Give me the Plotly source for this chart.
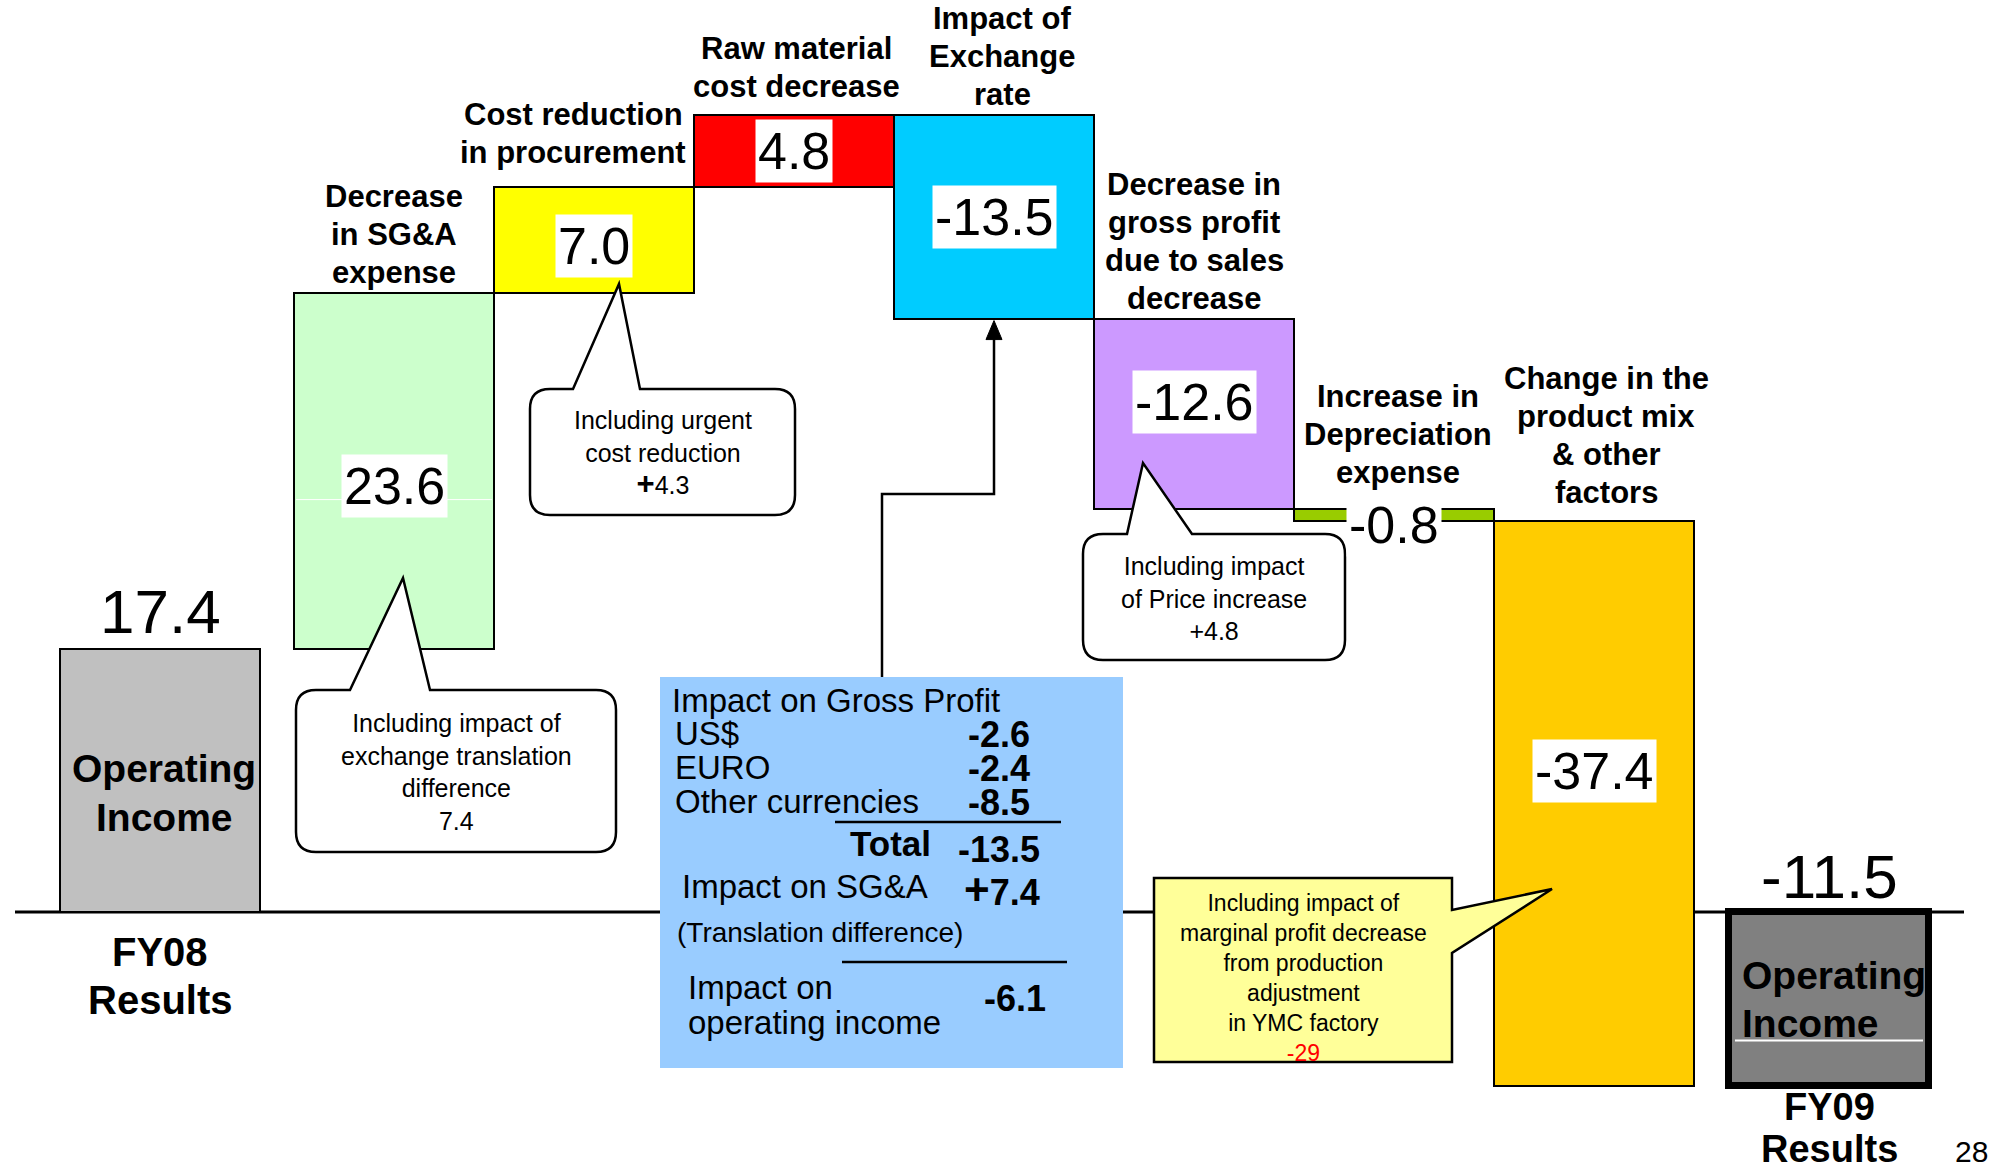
import plotly.graph_objects as go

# ---------------------------------------------------------------- data
start_name = "FY08<br>Results"
start_value = 17.4
step_names = [
    "Decrease<br>in SG&A<br>expense",
    "Cost reduction<br>in procurement",
    "Raw material<br>cost decrease",
    "Impact of<br>Exchange<br>rate",
    "Decrease in<br>gross profit<br>due to sales<br>decrease",
    "Increase in<br>Depreciation<br>expense",
    "Change in the<br>product mix<br>& other<br>factors",
]
step_values = [23.6, 7.0, 4.8, -13.5, -12.6, -0.8, -37.4]
end_name = "FY09<br>Results"
end_value = -11.5
total_inner_text = "Operating<br>Income"

# exchange-rate breakdown
fx_currencies = ["US$", "EURO", "Other currencies"]
fx_values = [-2.6, -2.4, -8.5]
fx_total = -13.5
sga_translation = 7.4
fx_operating_impact = -6.1

# callout notes
note_sga = "Including impact of<br>exchange translation<br>difference<br>7.4"
note_procurement = ("Including urgent<br>cost reduction<br>"
                    "<span style='font-size:31px'><b>+</b></span>4.3")
note_price = "Including impact<br>of Price increase<br>+4.8"
note_mix = ("Including impact of<br>marginal profit decrease<br>from production<br>"
            "adjustment<br>in YMC factory<br><span style='color:#FF0000'>-29</span>")
page_number = "28"

# ---------------------------------------------------------------- styles
step_colors = ["#CCFFCC", "#FFFF00", "#FF0000", "#00CCFF", "#CC99FF", "#99CC00", "#FFCC00"]
start_color = "#C0C0C0"
end_color = "#808080"
FONT = "Arial, 'Liberation Sans', Helvetica, sans-serif"

W, H = 1993, 1170
XR = [-0.97, 8.995]
YR = [-(H - 912) / 15.1, 912 / 15.1]


def xpx(v):
    return (v - XR[0]) / (XR[1] - XR[0]) * W


def ypx(v):
    return (YR[1] - v) / (YR[1] - YR[0]) * H


def P(px, py):
    return f"{px / W:.5f},{1 - py / H:.5f}"


# ---------------------------------------------------------------- bars
slots = list(range(len(step_values) + 2))
values = [start_value] + step_values + [end_value]
bases = [0.0]
running = start_value
for v in step_values:
    bases.append(running)
    running += v
bases.append(0.0)
colors = [start_color] + step_colors + [end_color]
offsets = [-0.67] + [-0.5] * len(step_values) + [-0.325]
widths = [1.0] * len(slots)
line_w = [2] * (len(slots) - 1) + [7]
centers = [s + o + w / 2 for s, o, w in zip(slots, offsets, widths)]

fig = go.Figure(go.Bar(
    x=slots, y=values, base=bases, width=widths, offset=offsets,
    marker=dict(color=colors, line=dict(color="#000000", width=line_w)),
    hoverinfo="skip", showlegend=False,
))

shapes = []
annotations = []

# axis baseline
shapes.append(dict(type="line", xref="paper", yref="y", x0=15 / W, x1=1964 / W, y0=0, y1=0,
                   line=dict(color="#000000", width=3), layer="below"))

# thin white text-box edges left inside two bars
shapes.append(dict(type="line", xref="x", yref="y",
                   x0=centers[1] - 0.49, x1=centers[1] + 0.49, y0=bases[1] + step_values[0] * 0.42,
                   y1=bases[1] + step_values[0] * 0.42, line=dict(color="#FFFFFF", width=1)))
shapes.append(dict(type="line", xref="x", yref="y",
                   x0=centers[-1] - 0.47, x1=centers[-1] + 0.47, y0=end_value * 0.74,
                   y1=end_value * 0.74, line=dict(color="#FFFFFF", width=2)))


def label(x, y, text, size, bold=False, **kw):
    t = f"<b>{text}</b>" if bold else text
    d = dict(x=x, y=y, text=t, showarrow=False, borderpad=0,
             font=dict(family=FONT, size=size, color="#000000"))
    d.update(kw)
    annotations.append(d)


def stacked(x, y, text, size, spacing, bold=True, below=False, xshift=0, yshift=0, **kw):
    """Multi-line label drawn line by line so the line spacing can be set."""
    lines = text.split("<br>")
    n = len(lines)
    for j, line in enumerate(lines):
        if below:
            dy = yshift - j * spacing
            anchor = "top"
        else:
            dy = yshift + (n - 1 - j) * spacing
            anchor = "bottom"
        label(x, y, line, size, bold=bold, xref="x", yref="y", yanchor=anchor,
              xshift=xshift, yshift=dy, **kw)


# category labels above the step bars
label_dx = [0, -21, 2, 8, 0, 4, 12]
label_dy = [2, 16, 10, 2, 2, 18, 10]
for i, name in enumerate(step_names):
    s = i + 1
    top = max(bases[s], bases[s] + values[s])
    stacked(centers[s], top, name, 31, 38, xshift=label_dx[i], yshift=label_dy[i])

# step values, white boxed
value_dy = [-15, -6, 0, 0, 12, -10, 32]
for i in range(len(step_values)):
    s = i + 1
    mid = bases[s] + values[s] / 2
    label(centers[s], mid, f"{values[s]:.1f}", 52, xref="x", yref="y", yanchor="middle",
          bgcolor="#FFFFFF", borderpad=2, yshift=value_dy[i])

# totals
label(centers[0], start_value, f"{start_value:.1f}", 62, xref="x", yref="y", yanchor="bottom", yshift=2)
label(centers[-1], 0, f"{end_value:.1f}", 62, xref="x", yref="y", yanchor="bottom", yshift=0)
stacked(centers[0], 0, start_name, 40, 48, below=True, yshift=-17)
stacked(centers[-1], end_value, end_name, 38, 42, below=True, yshift=1)
stacked(centers[0], start_value * 0.45, total_inner_text, 39, 49, below=True, xshift=4,
        yshift=48)
stacked(centers[-1] - 0.44, end_value * 0.5, total_inner_text, 39, 48, below=True,
        xanchor="left", yshift=46)


# ---------------------------------------------------------------- callouts
def bubble(x0, y0, x1, y1, r, side, a, b, tip):
    s = f"M{P(x0 + r, y0)}"
    if side == "top":
        s += f" L{P(a, y0)} L{P(*tip)} L{P(b, y0)}"
    s += f" L{P(x1 - r, y0)}"
    if r:
        s += f" Q{P(x1, y0)} {P(x1, y0 + r)}"
    if side == "right":
        s += f" L{P(x1, a)} L{P(*tip)} L{P(x1, b)}"
    s += f" L{P(x1, y1 - r)}"
    if r:
        s += f" Q{P(x1, y1)} {P(x1 - r, y1)}"
    s += f" L{P(x0 + r, y1)}"
    if r:
        s += f" Q{P(x0, y1)} {P(x0, y1 - r)}"
    s += f" L{P(x0, y0 + r)}"
    if r:
        s += f" Q{P(x0, y0)} {P(x0 + r, y0)}"
    return s + " Z"


def callout(box, r, side, a, b, tip, fill, text, size, text_y):
    x0, y0, x1, y1 = box
    shapes.append(dict(type="path", xref="paper", yref="paper",
                       path=bubble(x0, y0, x1, y1, r, side, a, b, tip),
                       fillcolor=fill, line=dict(color="#000000", width=2.5)))
    annotations.append(dict(xref="paper", yref="paper", x=(x0 + x1) / 2 / W, y=1 - text_y / H,
                            text=text, showarrow=False, xanchor="center", yanchor="middle",
                            font=dict(family=FONT, size=size, color="#000000")))


callout((296, 690, 616, 852), 20, "top", 350, 430, (403, 578), "#FFFFFF", note_sga, 25, 772)
callout((530, 389, 795, 515), 20, "top", 573, 640, (619, 284), "#FFFFFF", note_procurement, 25, 454)
callout((1083, 534, 1345, 660), 20, "top", 1127, 1192, (1143, 463), "#FFFFFF", note_price, 25, 598)
callout((1154, 878, 1452, 1062), 0, "right", 910, 953, (1552, 889), "#FFFF99", note_mix, 23, 978)

# ---------------------------------------------------------------- exchange breakdown panel
box = (660, 677, 1123, 1068)
shapes.append(dict(type="rect", xref="paper", yref="paper", x0=box[0] / W, x1=box[2] / W,
                   y0=1 - box[3] / H, y1=1 - box[1] / H, fillcolor="#99CCFF", line=dict(width=0)))

# connector from the panel up to the exchange-rate bar
fx_slot = 4
fx_bottom = min(bases[fx_slot], bases[fx_slot] + values[fx_slot])
ax = xpx(centers[fx_slot])
tip_y = ypx(fx_bottom) + 2
shapes.append(dict(type="path", xref="paper", yref="paper",
                   path=f"M{P(882, box[1])} L{P(882, 494)} L{P(ax, 494)} L{P(ax, tip_y + 14)}",
                   line=dict(color="#000000", width=2.5)))
shapes.append(dict(type="path", xref="paper", yref="paper",
                   path=f"M{P(ax, tip_y)} L{P(ax - 8, tip_y + 19)} L{P(ax + 8, tip_y + 19)} Z",
                   fillcolor="#000000", line=dict(color="#000000", width=1)))


def ptext(px, baseline, text, size, bold=False, anchor="left"):
    t = f"<b>{text}</b>" if bold else text
    annotations.append(dict(xref="paper", yref="paper", x=px / W, y=1 - (baseline - 0.35 * size) / H,
                            text=t, showarrow=False, xanchor=anchor, yanchor="middle", borderpad=0,
                            font=dict(family=FONT, size=size, color="#000000")))


ptext(671, 712, "Impact on Gross Profit", 33)
for name, val, bl in zip(fx_currencies, fx_values, [745, 779, 813]):
    ptext(674, bl, name, 33)
    ptext(1031, bl + 2, f"{val:.1f}", 36, bold=True, anchor="right")
shapes.append(dict(type="line", xref="paper", yref="paper", x0=835 / W, x1=1061 / W,
                   y0=1 - 822 / H, y1=1 - 822 / H, line=dict(color="#000000", width=2.5)))
ptext(849, 856, "Total", 35, bold=True)
ptext(1041, 862, f"{fx_total:.1f}", 36, bold=True, anchor="right")
ptext(681, 898, "Impact on SG&A", 33)
ptext(1041, 902, f"<span style='font-size:44px'>+</span>{sga_translation:.1f}", 36, bold=True,
      anchor="right")
ptext(676, 942, "(Translation difference)", 28)
shapes.append(dict(type="line", xref="paper", yref="paper", x0=842 / W, x1=1067 / W,
                   y0=1 - 962 / H, y1=1 - 962 / H, line=dict(color="#000000", width=2.5)))
ptext(687, 999, "Impact on", 33)
ptext(687, 1034, "operating income", 33)
ptext(1047, 1011, f"{fx_operating_impact:.1f}", 36, bold=True, anchor="right")

# page number
annotations.append(dict(xref="paper", yref="paper", x=1990 / W, y=1 - 1151 / H, text=page_number,
                        showarrow=False, xanchor="right", yanchor="middle",
                        font=dict(family=FONT, size=30, color="#000000")))

fig.update_layout(
    width=W, height=H, autosize=False,
    margin=dict(l=0, r=0, t=0, b=0, pad=0),
    paper_bgcolor="#FFFFFF", plot_bgcolor="#FFFFFF",
    xaxis=dict(range=XR, visible=False, fixedrange=True),
    yaxis=dict(range=YR, visible=False, fixedrange=True),
    bargap=0,
    shapes=shapes,
    annotations=annotations,
    font=dict(family=FONT),
)

fig.write_html("out.html")
